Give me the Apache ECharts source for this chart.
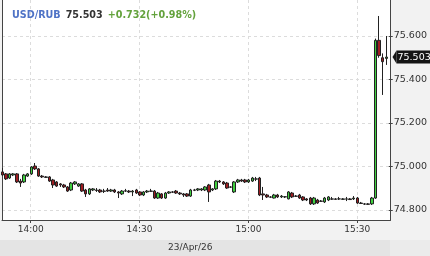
<!DOCTYPE html>
<html>
<head>
<meta charset="utf-8">
<script src="https://cdn.jsdelivr.net/npm/echarts@6/dist/echarts.min.js"></script>
<style>html,body{margin:0;padding:0;background:#f2f2f2;}#c{width:430px;height:256px;}</style>
</head>
<body>
<div id="c"></div>
<script>
var dateLabel = '23/Apr/26';
var symbol = 'USD/RUB';
var lastPrice = 75.503;
var changeText = '+0.732(+0.98%)';
var yTickMin = 74.8, yTickMax = 75.6, yTickStep = 0.2;
var xTickMin = 840, xTickMax = 930, xTickStep = 30; // minutes of day: 14:00 .. 15:30

var times = ['13:52','13:53','13:54','13:55','13:56','13:57','13:58','13:59',
'14:00','14:01','14:02','14:03','14:04','14:05','14:06','14:07','14:08','14:09',
'14:10','14:11','14:12','14:13','14:14','14:15','14:16','14:17','14:18','14:19',
'14:20','14:21','14:22','14:23','14:24','14:25','14:26','14:27','14:28','14:29',
'14:30','14:31','14:32','14:33','14:34','14:35','14:36','14:37','14:38','14:39',
'14:40','14:41','14:42','14:43','14:44','14:45','14:46','14:47','14:48','14:49',
'14:50','14:51','14:52','14:53','14:54','14:55','14:56','14:57','14:58','14:59',
'15:00','15:01','15:02','15:03','15:04','15:05','15:06','15:07','15:08','15:09',
'15:10','15:11','15:12','15:13','15:14','15:15','15:16','15:17','15:18','15:19',
'15:20','15:21','15:22','15:23','15:24','15:25','15:26','15:27','15:28','15:29',
'15:30','15:31','15:32','15:33','15:34','15:35','15:36','15:37','15:38'];

var openV = [74.975,74.966,74.947,74.961,74.966,74.933,74.929,74.956,
74.966,75.002,74.989,74.956,74.952,74.952,74.938,74.929,74.920,74.915,
74.906,74.892,74.920,74.910,74.920,74.892,74.874,74.892,74.892,74.892,
74.887,74.892,74.887,74.892,74.883,74.874,74.887,74.887,74.883,74.892,
74.883,74.869,74.883,74.887,74.887,74.855,74.874,74.855,74.878,74.883,
74.887,74.878,74.874,74.874,74.864,74.892,74.892,74.892,74.892,74.915,
74.892,74.897,74.933,74.929,74.924,74.906,74.883,74.929,74.938,74.938,
74.929,74.933,74.943,74.947,74.874,74.869,74.860,74.855,74.869,74.860,
74.860,74.851,74.878,74.864,74.869,74.860,74.851,74.855,74.828,74.846,
74.841,74.837,74.846,74.851,74.851,74.851,74.849,74.851,74.851,74.851,
74.855,74.832,74.828,74.828,74.828,74.855,75.580,75.500,75.497];

var closeV = [74.961,74.943,74.966,74.966,74.929,74.924,74.961,74.966,
74.998,74.989,74.956,74.952,74.950,74.933,74.915,74.910,74.915,74.906,
74.887,74.924,74.929,74.920,74.887,74.874,74.897,74.897,74.890,74.883,
74.886,74.887,74.892,74.883,74.878,74.887,74.888,74.883,74.887,74.878,
74.869,74.883,74.887,74.886,74.855,74.878,74.855,74.878,74.883,74.882,
74.878,74.874,74.869,74.864,74.892,74.891,74.897,74.897,74.906,74.883,
74.897,74.933,74.929,74.920,74.901,74.905,74.929,74.938,74.933,74.929,
74.938,74.947,74.942,74.869,74.869,74.860,74.859,74.869,74.860,74.864,
74.861,74.883,74.860,74.863,74.855,74.846,74.846,74.828,74.855,74.832,
74.840,74.855,74.860,74.850,74.849,74.851,74.851,74.850,74.848,74.855,
74.832,74.830,74.827,74.826,74.855,75.580,75.510,75.482,75.503];

var lowV = [74.956,74.938,74.943,74.956,74.924,74.906,74.924,74.952,
74.961,74.984,74.952,74.947,74.947,74.929,74.901,74.906,74.906,74.901,
74.883,74.887,74.915,74.906,74.883,74.860,74.869,74.887,74.883,74.878,
74.878,74.883,74.883,74.878,74.855,74.869,74.883,74.878,74.864,74.874,
74.864,74.864,74.878,74.883,74.851,74.851,74.851,74.851,74.874,74.878,
74.874,74.869,74.860,74.860,74.860,74.887,74.887,74.887,74.887,74.837,
74.887,74.892,74.924,74.915,74.897,74.901,74.878,74.924,74.929,74.924,
74.924,74.929,74.933,74.864,74.846,74.855,74.855,74.853,74.855,74.855,
74.855,74.849,74.855,74.860,74.851,74.841,74.841,74.823,74.823,74.828,
74.837,74.832,74.841,74.846,74.846,74.846,74.846,74.841,74.846,74.846,
74.828,74.828,74.823,74.823,74.823,74.851,75.500,75.329,75.467];

var highV = [74.993,74.970,74.970,74.970,74.970,74.943,74.966,74.970,
75.002,75.016,74.993,74.961,74.956,74.956,74.943,74.933,74.924,74.920,
74.910,74.929,74.933,74.924,74.924,74.897,74.901,74.901,74.901,74.897,
74.897,74.901,74.897,74.897,74.887,74.892,74.897,74.892,74.892,74.897,
74.887,74.887,74.892,74.897,74.892,74.883,74.878,74.883,74.887,74.887,
74.892,74.883,74.878,74.878,74.897,74.897,74.901,74.901,74.910,74.920,
74.901,74.938,74.938,74.933,74.929,74.910,74.933,74.943,74.943,74.943,
74.943,74.952,74.952,74.952,74.906,74.874,74.864,74.874,74.874,74.869,
74.864,74.887,74.883,74.869,74.874,74.864,74.855,74.860,74.860,74.851,
74.846,74.860,74.864,74.860,74.855,74.860,74.855,74.860,74.855,74.864,
74.860,74.837,74.832,74.832,74.860,75.588,75.692,75.520,75.600];

function toMinutes(t) { var p = t.split(':'); return (+p[0]) * 60 + (+p[1]); }
function pad(n) { return (n < 10 ? '0' : '') + n; }
function minLabel(v) { return pad(Math.floor(v / 60)) + ':' + pad(Math.round(v % 60)); }

var candles = times.map(function (t, i) {
  return [toMinutes(t), openV[i], closeV[i], lowV[i], highV[i]];
});

// visible data window (plot spans x 2..390.5, y 0..220)
var xMin = 831.91, xMax = 939.15;
var yMin = 74.754, yMax = 75.7655;
var fontFam = 'DejaVu Sans';
var axisCol = '#444';
var gridCol = '#dcdcdc';

var chart = echarts.init(document.getElementById('c'), null, {renderer: 'canvas'});
chart.setOption({
  animation: false,
  backgroundColor: '#f2f2f2',
  title: {
    left: 7, top: 1,
    text: '{a|' + symbol + '} {b|' + lastPrice.toFixed(3) + '} {c|' + changeText + '}',
    textStyle: {
      rich: {
        a: {color: '#4f73c6', fontWeight: 'bold', fontSize: 9.6, fontFamily: fontFam},
        b: {color: '#333333', fontWeight: 'bold', fontSize: 9.6, fontFamily: fontFam},
        c: {color: '#63a23c', fontWeight: 'bold', fontSize: 9.6, fontFamily: fontFam}
      }
    }
  },
  grid: [
    {left: 2, right: 39.5, top: 0, bottom: 36, show: true, backgroundColor: '#ffffff', borderWidth: 0},
    {left: 2, right: 39.5, top: 36, bottom: 46, show: false},
    {left: 30.7, right: 72.7, top: 0, bottom: 36, show: false}
  ],
  xAxis: [{
    gridIndex: 0, type: 'value', min: xMin, max: xMax,
    axisLine: {show: true, onZero: false, lineStyle: {color: axisCol}},
    axisTick: {show: false}, axisLabel: {show: false}, splitLine: {show: false}
  }, {
    gridIndex: 1, type: 'value', show: false, min: 0, max: 1
  }, {
    gridIndex: 2, type: 'value', min: xTickMin, max: xTickMax, interval: xTickStep,
    axisLine: {show: false, onZero: false},
    axisTick: {show: true, length: 3, lineStyle: {color: axisCol}},
    axisLabel: {color: '#333', fontSize: 9, fontFamily: fontFam, margin: 5, formatter: minLabel},
    splitLine: {show: true, lineStyle: {color: gridCol, type: [3, 3]}}
  }],
  yAxis: [{
    gridIndex: 0, type: 'value', position: 'right', min: yMin, max: yMax,
    axisLine: {show: true, onZero: false, lineStyle: {color: axisCol}},
    axisTick: {show: false}, axisLabel: {show: false}, splitLine: {show: false}
  }, {
    gridIndex: 0, type: 'value', position: 'left', min: yMin, max: yMax,
    axisLine: {show: true, onZero: false, lineStyle: {color: axisCol}},
    axisTick: {show: false}, axisLabel: {show: false}, splitLine: {show: false}
  }, {
    gridIndex: 1, type: 'value', position: 'right', min: yTickMin, max: yTickMax, interval: yTickStep,
    axisLine: {show: false, onZero: false},
    axisTick: {show: true, length: 4, lineStyle: {color: axisCol}},
    axisLabel: {color: '#333', fontSize: 9.5, fontFamily: fontFam, margin: 5,
      formatter: function (v) { return v.toFixed(3); }},
    splitLine: {show: true, lineStyle: {color: gridCol, type: [3, 3]}}
  }, {
    gridIndex: 2, type: 'value', show: false, min: 0, max: 1
  }],
  series: [{
    type: 'candlestick',
    xAxisIndex: 0, yAxisIndex: 0,
    data: candles,
    encode: {x: 0, y: [1, 2, 3, 4]},
    barWidth: 3,
    z: 5,
    itemStyle: {
      color: '#3fd13f', color0: '#a01c20',
      borderColor: '#222', borderColor0: '#222', borderWidth: 1
    }
  }],
  graphic: [
    {type: 'rect', left: 0, top: 240, shape: {width: 390, height: 16}, style: {fill: '#e4e4e4'}, silent: true},
    {type: 'rect', left: 390, top: 240, shape: {width: 40, height: 16}, style: {fill: '#ebebeb'}, silent: true},
    {type: 'text', left: 168, top: 243, style: {text: dateLabel, fill: '#333', font: '9px "DejaVu Sans"'}, silent: true}
  ]
});

// current-price tag placed through the library's own scale
var py = chart.convertToPixel({yAxisIndex: 0}, lastPrice);
var px = chart.convertToPixel({xAxisIndex: 0}, xMax);
chart.setOption({
  graphic: [
    {type: 'rect', left: 0, top: 240, shape: {width: 390, height: 16}, style: {fill: '#e4e4e4'}, silent: true},
    {type: 'rect', left: 390, top: 240, shape: {width: 40, height: 16}, style: {fill: '#ebebeb'}, silent: true},
    {type: 'text', left: 168, top: 243, style: {text: dateLabel, fill: '#333', font: '9px "DejaVu Sans"'}, silent: true},
    {type: 'polygon', z: 10, shape: {points: [[px + 2, py], [px + 6, py - 6.5], [px + 6, py + 6.5]]}, style: {fill: '#151515'}, silent: true},
    {type: 'rect', z: 10, shape: {x: px + 6, y: py - 6.5, width: 430 - px - 6, height: 13}, style: {fill: '#151515'}, silent: true},
    {type: 'text', z: 11, x: px + 7, y: py, style: {text: lastPrice.toFixed(3), fill: '#fff', font: '9.5px "DejaVu Sans"', verticalAlign: 'middle'}, silent: true}
  ]
});
</script>
</body>
</html>
